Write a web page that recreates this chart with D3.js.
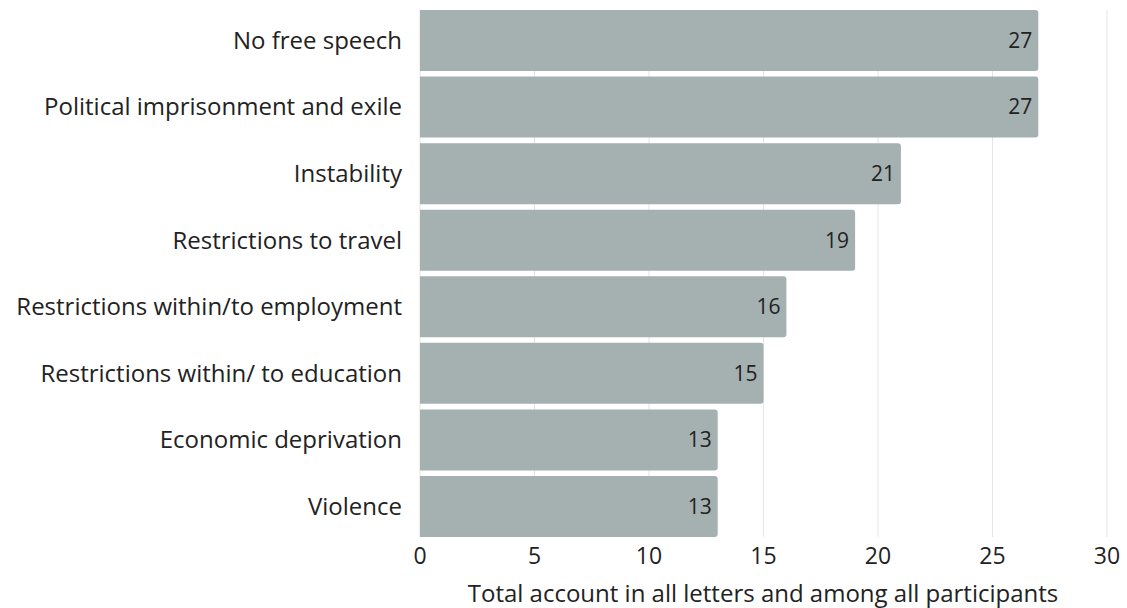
<!DOCTYPE html>
<html><head><meta charset="utf-8">
<script src="https://cdn.jsdelivr.net/npm/d3@7"></script>
<style>body{margin:0;background:#fff}svg{display:block}text{font-family:"Open Sans",sans-serif;fill:#222}</style>
</head><body><svg id="c" width="1127" height="608"></svg>
<script>
const categories = ["No free speech","Political imprisonment and exile","Instability","Restrictions to travel","Restrictions within/to employment","Restrictions within/ to education","Economic deprivation","Violence"];
const values = [27,27,21,19,16,15,13,13];
const xTicks = [0,5,10,15,20,25,30];
const xTitle = "Total account in all letters and among all participants";

const svg = d3.select("#c");
const x = d3.scaleLinear().domain([0,30]).range([420, 1107]);
const y = d3.scaleBand().domain(categories).range([10, 537]).paddingInner(0.084).paddingOuter(0);

svg.append("g").selectAll("line").data(xTicks).join("line")
  .attr("x1",d=>x(d)).attr("x2",d=>x(d)).attr("y1",10).attr("y2",537)
  .attr("stroke","#e4e4e4").attr("stroke-width",1);

const r = 3;
svg.append("g").selectAll("path").data(values).join("path")
  .attr("fill","#a5b0b0")
  .attr("d",(d,i)=>{
    const x0=x(0), x1=x(d), y0=y(categories[i]), h=y.bandwidth();
    return `M${x0},${y0}H${x1-r}Q${x1},${y0} ${x1},${y0+r}V${y0+h-r}Q${x1},${y0+h} ${x1-r},${y0+h}H${x0}Z`;
  });

svg.append("g").selectAll("text").data(values).join("text")
  .attr("x",d=>x(d)-6).attr("y",(d,i)=>y(categories[i])+y.bandwidth()/2)
  .attr("dy","0.35em").attr("text-anchor","end").style("font-size","21px").text(d=>d);

svg.append("g").selectAll("text").data(categories).join("text")
  .attr("x",402).attr("y",d=>y(d)+y.bandwidth()/2).attr("dy","0.35em")
  .attr("text-anchor","end").style("font-size","24px").text(d=>d);

svg.append("g").selectAll("text").data(xTicks).join("text")
  .attr("x",d=>x(d)).attr("y",556).attr("dy","0.35em").attr("text-anchor","middle")
  .style("font-size","23px").text(d=>d);

svg.append("text").attr("x",763).attr("y",594).attr("dy","0.35em").attr("text-anchor","middle")
  .style("font-size","24px").text(xTitle);
</script></body></html>
